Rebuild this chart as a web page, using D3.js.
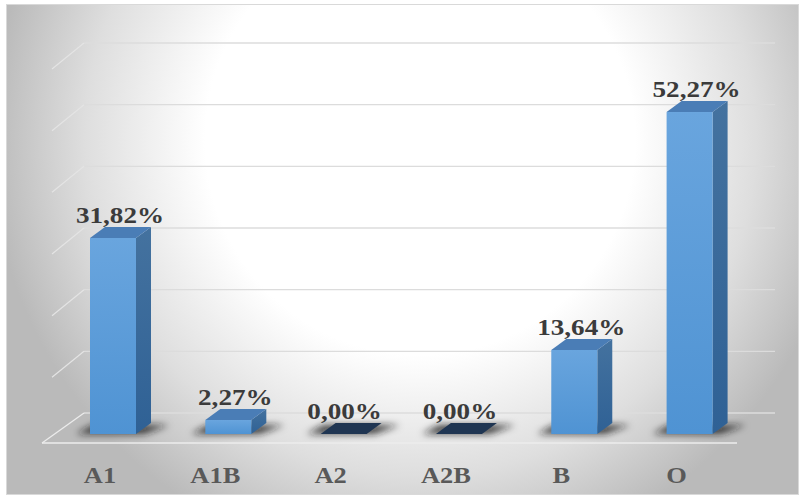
<!DOCTYPE html>
<html>
<head>
<meta charset="utf-8">
<script src="https://cdn.jsdelivr.net/npm/d3@7"></script>
<style>
  html,body{margin:0;padding:0;background:#fff;}
  svg{display:block;}
  .lbl{font-family:"Liberation Serif","Times New Roman",Times,serif;font-weight:bold;}
</style>
</head>
<body>
<svg id="chart" width="804" height="497"></svg>
<script>
const categories = ["A1", "A1B", "A2", "A2B", "B", "O"];
const values = [31.82, 2.27, 0.00, 0.00, 13.64, 52.27];
const valueLabels = ["31,82%", "2,27%", "0,00%", "0,00%", "13,64%", "52,27%"];
const gridTicks = [0, 10, 20, 30, 40, 50, 60];

const svg = d3.select("#chart");
const defs = svg.append("defs");

const bg = defs.append("radialGradient").attr("id", "bg")
  .attr("gradientUnits", "userSpaceOnUse")
  .attr("cx", 420).attr("cy", 140).attr("r", 430);
[[0, "#ffffff"], [0.5, "#ffffff"], [0.78, "#dedede"], [1, "#bababa"]]
  .forEach(([o, c]) => bg.append("stop").attr("offset", o).attr("stop-color", c));

const front = defs.append("linearGradient").attr("id", "front")
  .attr("x1", 0).attr("y1", 0).attr("x2", 0).attr("y2", 1);
front.append("stop").attr("offset", 0).attr("stop-color", "#69a5de");
front.append("stop").attr("offset", 1).attr("stop-color", "#4f93d3");

const side = defs.append("linearGradient").attr("id", "side")
  .attr("x1", 0).attr("y1", 0).attr("x2", 0).attr("y2", 1);
side.append("stop").attr("offset", 0).attr("stop-color", "#44729f");
side.append("stop").attr("offset", 1).attr("stop-color", "#2f6195");

const blur = defs.append("filter").attr("id", "blur")
  .attr("x", "-50%").attr("y", "-100%").attr("width", "200%").attr("height", "300%");
blur.append("feGaussianBlur").attr("stdDeviation", 3.5);

svg.append("rect").attr("x", 6.5).attr("y", 4.5).attr("width", 792).attr("height", 490)
  .attr("fill", "url(#bg)").attr("stroke", "#d9d9d9").attr("stroke-width", 1);

const x = d3.scalePoint().domain(categories).range([113, 689.6]);
const yWall = d3.scaleLinear().domain([0, 60]).range([413, 43]);
const yFront = d3.scaleLinear().domain([0, 60]).range([434, 64.4]);
const barW = 46, dX = 15, dY = -11;
const wallX0 = 84, wallX1 = 775;

const grid = svg.append("g");
gridTicks.forEach(t => {
  const yy = yWall(t);
  grid.append("line").attr("x1", wallX0).attr("x2", wallX1).attr("y1", yy).attr("y2", yy)
    .attr("stroke", "#dcdcdc").attr("stroke-width", 1.3);
  if (t > 0) {
    grid.append("line").attr("x1", wallX0).attr("y1", yy).attr("x2", wallX0 - 32).attr("y2", yy + 26)
      .attr("stroke", "#e4e4e4").attr("stroke-width", 1.2);
  }
});
grid.append("line").attr("x1", wallX0).attr("y1", yWall(0)).attr("x2", 42).attr("y2", 443)
  .attr("stroke", "#ececec").attr("stroke-width", 1.3);
grid.append("line").attr("x1", 42).attr("x2", 737).attr("y1", 443).attr("y2", 443)
  .attr("stroke", "#ececec").attr("stroke-width", 1.5);

const shadows = svg.append("g").attr("filter", "url(#blur)");
categories.forEach((c, i) => {
  const x0 = x(c) - barW / 2, x1 = x(c) + barW / 2;
  const yb = yFront(0);
  shadows.append("polygon")
    .attr("points", [[x0 - 14, yb], [x1 + 8, yb], [x1 + dX + 18, yb + dY + 2], [x0 + dX - 12, yb + dY + 2]].map(p => p.join(",")).join(" "))
    .attr("fill", "#1a1a1a").attr("opacity", 0.8);
});

const bars = svg.append("g");
categories.forEach((c, i) => {
  const v = values[i];
  const x0 = x(c) - barW / 2, x1 = x(c) + barW / 2;
  const yt = yFront(v), yb = yFront(0);
  const g = bars.append("g");
  if (v > 0) {
    g.append("polygon")
      .attr("points", [[x1, yt], [x1 + dX, yt + dY], [x1 + dX, yb + dY], [x1, yb]].map(p => p.join(",")).join(" "))
      .attr("fill", "url(#side)");
    g.append("rect").attr("x", x0).attr("y", yt).attr("width", barW).attr("height", yb - yt)
      .attr("fill", "url(#front)");
    g.append("polygon")
      .attr("points", [[x0, yt], [x1, yt], [x1 + dX, yt + dY], [x0 + dX, yt + dY]].map(p => p.join(",")).join(" "))
      .attr("fill", "#4a7db6");
  } else {
    g.append("polygon")
      .attr("points", [[x0, yt], [x1, yt], [x1 + dX, yt + dY], [x0 + dX, yt + dY]].map(p => p.join(",")).join(" "))
      .attr("fill", "#1f3552");
  }
  const lx = x(c) + (v > 0 ? 7 : 1);
  const ly = yt + dY - 4;
  svg.append("text").attr("class", "lbl")
    .attr("transform", `translate(${lx},${ly}) scale(1.13,1)`)
    .attr("text-anchor", "middle")
    .attr("font-size", 24)
    .attr("fill", "#3b3b3b")
    .text(valueLabels[i]);
});

const catG = svg.append("g");
categories.forEach(c => {
  catG.append("text").attr("class", "lbl")
    .attr("transform", `translate(${x(c) - 13},483) scale(1.15,1)`)
    .attr("text-anchor", "middle")
    .attr("font-size", 23)
    .attr("fill", "#595959")
    .text(c);
});
</script>
</body>
</html>
